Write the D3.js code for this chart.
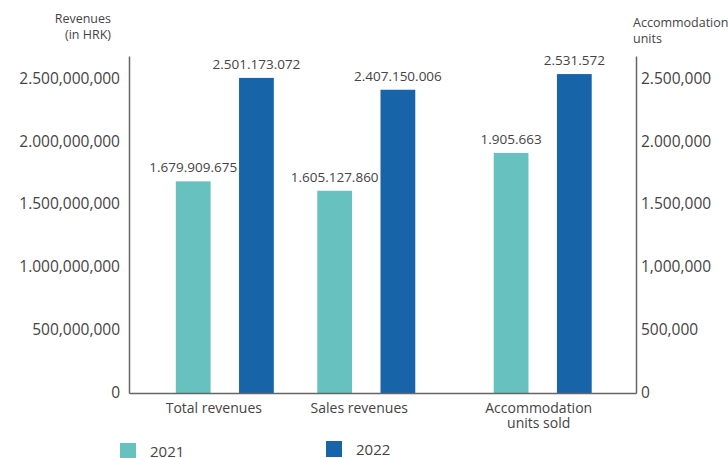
<!DOCTYPE html>
<html>
<head>
<meta charset="utf-8">
<script src="https://cdn.jsdelivr.net/npm/d3@7"></script>
<style>
body { margin: 0; background: #fff; }
svg text { font-family: "Open Sans", sans-serif; fill: #444; }
.axis path { stroke: #666; stroke-width: 1.5px; }
</style>
</head>
<body>
<svg width="728" height="458"></svg>
<script>
// data
var categories = ["Total revenues", "Sales revenues", "Accommodation units sold"];
var years = ["2021", "2022"];
var values2021 = [1679909675, 1605127860, 1905663];
var values2022 = [2501173072, 2407150006, 2531572];
var onRightAxis = [false, false, true];

var leftTicks = [0, 500000000, 1000000000, 1500000000, 2000000000, 2500000000];
var leftTickLabels = ["0", "500,000,000", "1.000,000,000", "1.500,000,000", "2.000,000,000", "2.500,000,000"];
var rightTicks = [0, 500000, 1000000, 1500000, 2000000, 2500000];
var rightTickLabels = ["0", "500,000", "1,000,000", "1.500,000", "2.000,000", "2.500,000"];

var colors = {"2021": "#67c2bf", "2022": "#1764a9"};

var svg = d3.select("svg");
var plotLeft = 129, plotRight = 636, plotTop = 56, plotBottom = 393;
var plotW = plotRight - plotLeft;

var yLeft = d3.scaleLinear().domain([0, 2.675e9]).range([plotBottom, plotTop]);
var yRight = d3.scaleLinear().domain([0, 2.675e6]).range([plotBottom, plotTop]);

// groups are not evenly spaced in the original
var xGroup = d3.scaleOrdinal().domain(categories)
  .range([plotLeft + plotW * 0.189, plotLeft + plotW * 0.468, plotLeft + plotW * 0.816]);
var xYear = d3.scaleBand().domain(years).range([-49, 49]).paddingInner(0.45);

var fmt = function(v){ return d3.format(",")(v).replace(/,/g, "."); };

var rows = [];
categories.forEach(function(c, i){
  rows.push({cat: c, year: "2021", value: values2021[i], right: onRightAxis[i]});
  rows.push({cat: c, year: "2022", value: values2022[i], right: onRightAxis[i]});
});

// bars
var barG = svg.append("g").attr("id", "barsG");
barG.selectAll("rect").data(rows).enter().append("rect")
  .attr("x", function(d){ return xGroup(d.cat) + xYear(d.year); })
  .attr("width", xYear.bandwidth())
  .attr("y", function(d){ return (d.right ? yRight : yLeft)(d.value); })
  .attr("height", function(d){ return plotBottom - (d.right ? yRight : yLeft)(d.value); })
  .style("fill", function(d){ return colors[d.year]; });

barG.selectAll("text").data(rows).enter().append("text")
  .attr("x", function(d){ return xGroup(d.cat) + xYear(d.year) + xYear.bandwidth() / 2; })
  .attr("y", function(d){ return (d.right ? yRight : yLeft)(d.value) - 9; })
  .attr("text-anchor", "middle")
  .style("font-size", "13.5px")
  .text(function(d){ return fmt(d.value); });

// axes
var yAxisL = d3.axisLeft(yLeft).tickValues(leftTicks).tickSize(0).tickPadding(9)
  .tickFormat(function(d, i){ return leftTickLabels[i]; });
svg.append("g").attr("class", "axis").attr("transform", "translate(" + plotLeft + ",0)").call(yAxisL);

var yAxisR = d3.axisRight(yRight).tickValues(rightTicks).tickSize(0).tickPadding(5)
  .tickFormat(function(d, i){ return rightTickLabels[i]; });
svg.append("g").attr("class", "axis").attr("transform", "translate(" + plotRight + ",0)").call(yAxisR);

var xAxis = d3.axisBottom(d3.scaleLinear().range([plotLeft, plotRight])).ticks(0).tickSizeOuter(0);
svg.append("g").attr("class", "axis").attr("transform", "translate(0," + plotBottom + ")").call(xAxis);

svg.selectAll(".axis text").style("font-size", "15.5px").style("fill", "#444")
  .style("font-family", "'Open Sans', sans-serif");

// category labels
var catLines = [["Total revenues"], ["Sales revenues"], ["Accommodation", "units sold"]];
var catShift = [-11, -7, -4];
categories.forEach(function(c, i){
  var t = svg.append("text")
    .attr("x", xGroup(c) + catShift[i])
    .attr("y", 413)
    .attr("text-anchor", "middle")
    .style("font-size", "14px");
  catLines[i].forEach(function(line, j){
    t.append("tspan").attr("x", xGroup(c) + catShift[i]).attr("dy", j == 0 ? 0 : 15).text(line);
  });
});

// axis titles
svg.append("text").attr("x", 111).attr("y", 23).attr("text-anchor", "end")
  .style("font-size", "12.5px").text("Revenues");
svg.append("text").attr("x", 111).attr("y", 39).attr("text-anchor", "end")
  .style("font-size", "12.5px").text("(in HRK)");
svg.append("text").attr("x", 633).attr("y", 27)
  .style("font-size", "12.5px").text("Accommodation");
svg.append("text").attr("x", 633).attr("y", 43)
  .style("font-size", "12.5px").text("units");

// legend
var legendX = d3.scaleOrdinal().domain(years).range([120, 326]);
var legendY = d3.scaleOrdinal().domain(years).range([443, 441]);
var leg = svg.append("g").selectAll("g").data(years).enter().append("g");
leg.append("rect")
  .attr("x", function(d){ return legendX(d); })
  .attr("y", function(d){ return legendY(d); })
  .attr("width", 16).attr("height", 16)
  .style("fill", function(d){ return colors[d]; });
leg.append("text")
  .attr("x", function(d){ return legendX(d) + 30; })
  .attr("y", function(d){ return legendY(d) + 13.5; })
  .style("font-size", "15px")
  .text(function(d){ return d; });
</script>
</body>
</html>
